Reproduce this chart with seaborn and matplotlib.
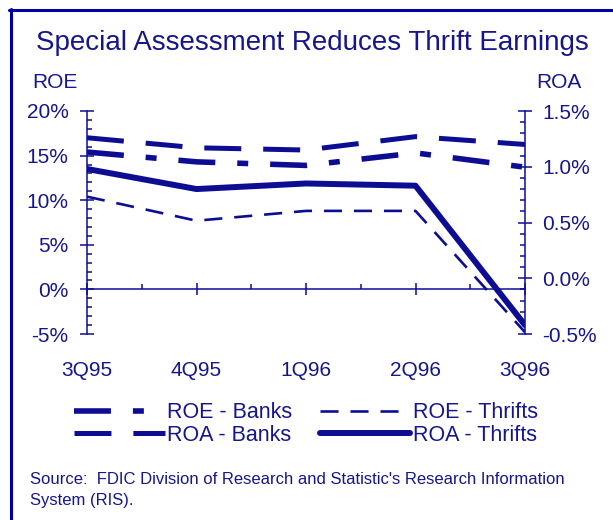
import numpy as np
import pandas as pd
import matplotlib
matplotlib.use("Agg")
import matplotlib.pyplot as plt
from matplotlib.lines import Line2D
from matplotlib.ticker import MultipleLocator, FixedLocator, FuncFormatter
import seaborn as sns

# ---- data ----
quarters = ["3Q95", "4Q95", "1Q96", "2Q96", "3Q96"]
roe_banks = [15.4, 14.3, 13.9, 15.3, 13.7]      # left axis, %
roa_banks = [1.26, 1.17, 1.15, 1.27, 1.20]      # right axis, %
roe_thrifts = [10.4, 7.7, 8.8, 8.8, -4.8]       # left axis, %
roa_thrifts = [0.98, 0.80, 0.85, 0.83, -0.42]   # right axis, %
roe_ticks = [-5, 0, 5, 10, 15, 20]
roa_ticks = [-0.5, 0.0, 0.5, 1.0, 1.5]

LINE = "#0d0d94"
TEXT = "#16168c"

sns.set_theme(style="white")
plt.rcParams["font.family"] = ["Liberation Sans", "DejaVu Sans"]
plt.rcParams["lines.scale_dashes"] = False

W, H = 613, 520
fig = plt.figure(figsize=(W / 100, H / 100), dpi=100)

def fx(px):
    return px / W

def fy(py):
    return 1 - py / H

left, right, top, bottom = 87, 525, 111, 334
ax = fig.add_axes([fx(left), fy(bottom), fx(right - left), (bottom - top) / H])
ax.set_facecolor("none")
ax2 = ax.twinx()

pos = np.arange(len(quarters))
df = pd.DataFrame({"pos": pos, "roe_banks": roe_banks, "roa_banks": roa_banks,
                   "roe_thrifts": roe_thrifts, "roa_thrifts": roa_thrifts})

sns.lineplot(data=df, x="pos", y="roe_thrifts", ax=ax, color=LINE, lw=1.9,
             label="ROE - Thrifts", legend=False)
sns.lineplot(data=df, x="pos", y="roe_banks", ax=ax, color=LINE, lw=4.0,
             label="ROE - Banks", legend=False)
sns.lineplot(data=df, x="pos", y="roa_banks", ax=ax2, color=LINE, lw=3.6,
             label="ROA - Banks", legend=False)
sns.lineplot(data=df, x="pos", y="roa_thrifts", ax=ax2, color=LINE, lw=4.3,
             label="ROA - Thrifts", legend=False)

l_roe_t, l_roe_b = ax.lines[0], ax.lines[1]
l_roa_b, l_roa_t = ax2.lines[0], ax2.lines[1]
l_roe_t.set_linestyle((0, (13, 8.6)))
l_roe_b.set_linestyle((0, (26.6, 15.8, 7.9, 15.8)))
l_roa_b.set_linestyle((0, (26.6, 15.8)))
l_roa_t.set_solid_capstyle("round")
l_roa_t.set_solid_joinstyle("round")
for l in (l_roe_t, l_roe_b, l_roa_b):
    l.set_dash_capstyle("butt")

ax.set_xlim(0, len(quarters) - 1)
ax.set_ylim(roe_ticks[0], roe_ticks[-1])
ax2.set_ylim(roa_ticks[0], roa_ticks[-1])
for a in (ax, ax2):
    a.set_xlabel("")
    a.set_ylabel("")
    a.grid(False)
    for s in a.spines.values():
        s.set_visible(False)

# spines
ax.spines["left"].set_visible(True)
ax.spines["left"].set_color(LINE)
ax.spines["left"].set_linewidth(1.1)
ax.spines["bottom"].set_visible(True)
ax.spines["bottom"].set_position(("data", 0))
ax.spines["bottom"].set_color(LINE)
ax.spines["bottom"].set_linewidth(1.1)
ax2.spines["right"].set_visible(True)
ax2.spines["right"].set_color(LINE)
ax2.spines["right"].set_linewidth(1.1)

# x ticks
ax.xaxis.set_major_locator(FixedLocator(pos))
ax.set_xticklabels(quarters)
ax.xaxis.set_minor_locator(FixedLocator(pos[:-1] + 0.5))
ax.tick_params(axis="x", which="major", direction="inout", length=8.6, width=1.1,
               color=LINE, labelcolor=TEXT, labelsize=15, pad=47, bottom=True)
ax.tick_params(axis="x", which="minor", direction="in", length=3.8, width=1.1,
               color=LINE, bottom=True)

# left y ticks
ax.yaxis.set_major_locator(FixedLocator(roe_ticks))
ax.yaxis.set_minor_locator(MultipleLocator(1))
ax.yaxis.set_major_formatter(FuncFormatter(lambda v, p: f"{v:.0f}%"))
ax.tick_params(axis="y", which="major", direction="inout", length=9.4, width=1.1,
               color=LINE, labelcolor=TEXT, labelsize=15, pad=8.5, left=True)
ax.tick_params(axis="y", which="minor", direction="in", length=3.8, width=1.1,
               color=LINE, left=True)

# right y ticks
ax2.yaxis.set_major_locator(FixedLocator(roa_ticks))
ax2.yaxis.set_minor_locator(MultipleLocator(0.1))
ax2.yaxis.set_major_formatter(FuncFormatter(lambda v, p: f"{v:.1f}%"))
ax2.tick_params(axis="y", which="major", direction="inout", length=9.4, width=1.1,
                color=LINE, labelcolor=TEXT, labelsize=15, pad=7.5, right=True)
ax2.tick_params(axis="y", which="minor", direction="in", length=3.8, width=1.1,
                color=LINE, right=True)

# axis titles
fig.text(fx(32), fy(83), "ROE", color=TEXT, fontsize=15, ha="left", va="center")
fig.text(fx(582), fy(83), "ROA", color=TEXT, fontsize=15, ha="right", va="center")

# chart title
fig.text(fx(312), fy(43), "Special Assessment Reduces Thrift Earnings",
         color=TEXT, fontsize=20, ha="center", va="center")

# legend
handles = [l_roe_b, l_roa_b, l_roe_t, l_roa_t]
labels = ["ROE - Banks", "ROA - Banks", "ROE - Thrifts", "ROA - Thrifts"]
leg = fig.legend(handles, labels, ncol=2, loc="center",
                 bbox_to_anchor=(fx(306), fy(424)), frameon=False,
                 fontsize=15.5, handlelength=4.2, handletextpad=0.1,
                 columnspacing=1.3, labelspacing=0.08, borderpad=0)
for t in leg.get_texts():
    t.set_color(TEXT)

# source
fig.text(fx(30), fy(480), "Source:  FDIC Division of Research and Statistic's Research Information",
         color=TEXT, fontsize=12, ha="left", va="center")
fig.text(fx(30), fy(500), "System (RIS).", color=TEXT, fontsize=12, ha="left", va="center")

# frame
fig.add_artist(Line2D([fx(9), 1.0], [fy(10), fy(10)], color="#0000a0", lw=2.2,
                      transform=fig.transFigure))
fig.add_artist(Line2D([fx(11), fx(11)], [fy(9), 0.0], color="#0000a0", lw=2.2,
                      transform=fig.transFigure))

fig.savefig("out.png", dpi=100, facecolor="white")
